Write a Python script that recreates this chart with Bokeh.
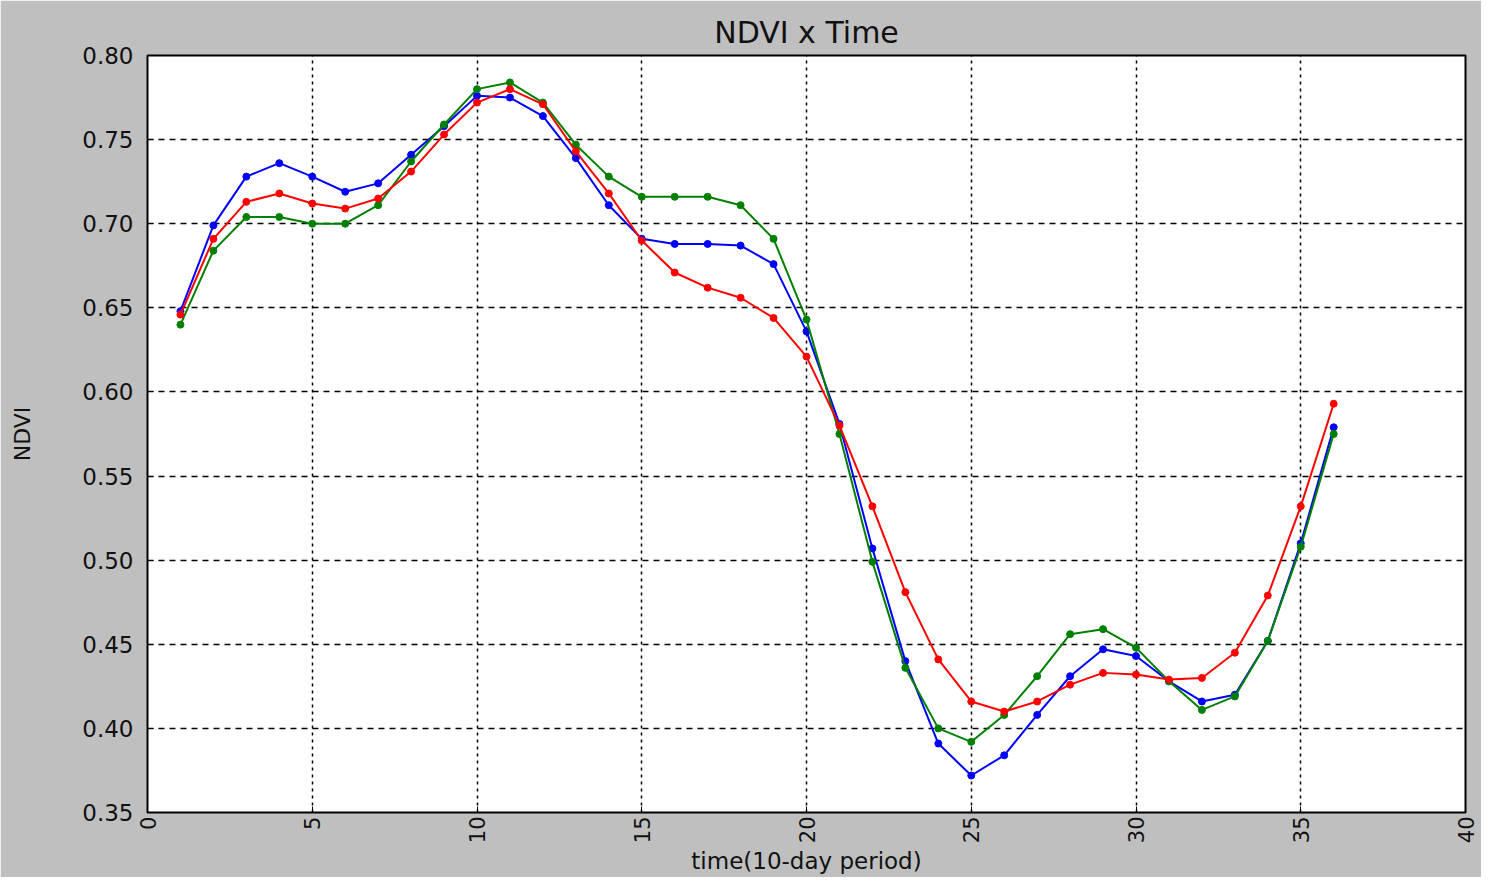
import math
from bokeh.plotting import figure
from bokeh.models import FixedTicker, NumeralTickFormatter
from bokeh.embed import file_html
from bokeh.resources import INLINE

t = list(range(1, 37))
ndvi_blue = [0.648, 0.699, 0.728, 0.736, 0.728, 0.719, 0.724, 0.741, 0.758, 0.776,
             0.775, 0.764, 0.739, 0.711, 0.691, 0.688, 0.688, 0.687, 0.676, 0.636,
             0.581, 0.507, 0.440, 0.391, 0.372, 0.384, 0.408, 0.431, 0.447, 0.443,
             0.428, 0.416, 0.420, 0.452, 0.510, 0.579]
ndvi_green = [0.640, 0.684, 0.704, 0.704, 0.700, 0.700, 0.711, 0.737, 0.759, 0.780,
              0.784, 0.772, 0.747, 0.728, 0.716, 0.716, 0.716, 0.711, 0.691, 0.643,
              0.575, 0.499, 0.436, 0.400, 0.392, 0.408, 0.431, 0.456, 0.459, 0.448,
              0.428, 0.411, 0.419, 0.452, 0.508, 0.575]
ndvi_red = [0.646, 0.691, 0.713, 0.718, 0.712, 0.709, 0.715, 0.731, 0.753, 0.772,
            0.780, 0.771, 0.743, 0.718, 0.690, 0.671, 0.662, 0.656, 0.644, 0.621,
            0.580, 0.532, 0.481, 0.441, 0.416, 0.410, 0.416, 0.426, 0.433, 0.432,
            0.429, 0.430, 0.445, 0.479, 0.532, 0.593]

x_ticks = [0, 5, 10, 15, 20, 25, 30, 35, 40]
y_ticks = [0.35, 0.40, 0.45, 0.50, 0.55, 0.60, 0.65, 0.70, 0.75, 0.80]

FONT = "DejaVu Sans"
BG = "#bfbfbf"

p = figure(width=1481, height=877, output_backend="svg", toolbar_location=None,
           x_range=(0, 40), y_range=(0.35, 0.80),
           title="NDVI x Time", x_axis_label="time(10-day period)", y_axis_label="NDVI",
           min_border_left=147, min_border_right=16, min_border_top=55, min_border_bottom=61)

p.background_fill_color = "white"
p.border_fill_color = BG
p.outline_line_color = "black"
p.outline_line_width = 2

p.title.align = "center"
p.title.text_font = FONT
p.title.text_font_size = "30px"
p.title.text_font_style = "normal"
p.title.text_color = "#111111"
p.title.standoff = 12

for ax in (p.xaxis[0], p.yaxis[0]):
    ax.axis_line_color = None
    ax.major_tick_in = 6
    ax.major_tick_out = 0
    ax.minor_tick_line_color = None
    ax.major_tick_line_color = "black"
    ax.major_label_text_font = FONT
    ax.major_label_text_color = "#111111"
    ax.axis_label_text_font = FONT
    ax.axis_label_text_font_style = "normal"
    ax.axis_label_text_color = "#111111"

p.xaxis.ticker = FixedTicker(ticks=x_ticks)
p.yaxis.ticker = FixedTicker(ticks=y_ticks)
p.yaxis.formatter = NumeralTickFormatter(format="0.00")
p.xaxis.major_label_orientation = math.pi / 2
p.xaxis.major_label_text_font_size = "21px"
p.yaxis.major_label_text_font_size = "23px"
p.xaxis.major_label_standoff = 4
p.yaxis.major_label_standoff = 14
p.xaxis.axis_label_text_font_size = "23px"
p.yaxis.axis_label_text_font_size = "22px"
p.xaxis.axis_label_standoff = 2
p.yaxis.axis_label_standoff = 44

p.xgrid.grid_line_color = "black"
p.xgrid.grid_line_dash = "3 4"
p.xgrid.grid_line_width = 1.5
p.ygrid.grid_line_color = "black"
p.ygrid.grid_line_dash = "6 5"
p.ygrid.grid_line_width = 1.5

for ys, col in ((ndvi_blue, "blue"), (ndvi_green, "green"), (ndvi_red, "red")):
    p.line(t, ys, line_color=col, line_width=2)
    p.scatter(t, ys, marker="circle", size=7, fill_color=col, line_color=col)

open("out.html", "w").write(file_html(p, INLINE))
